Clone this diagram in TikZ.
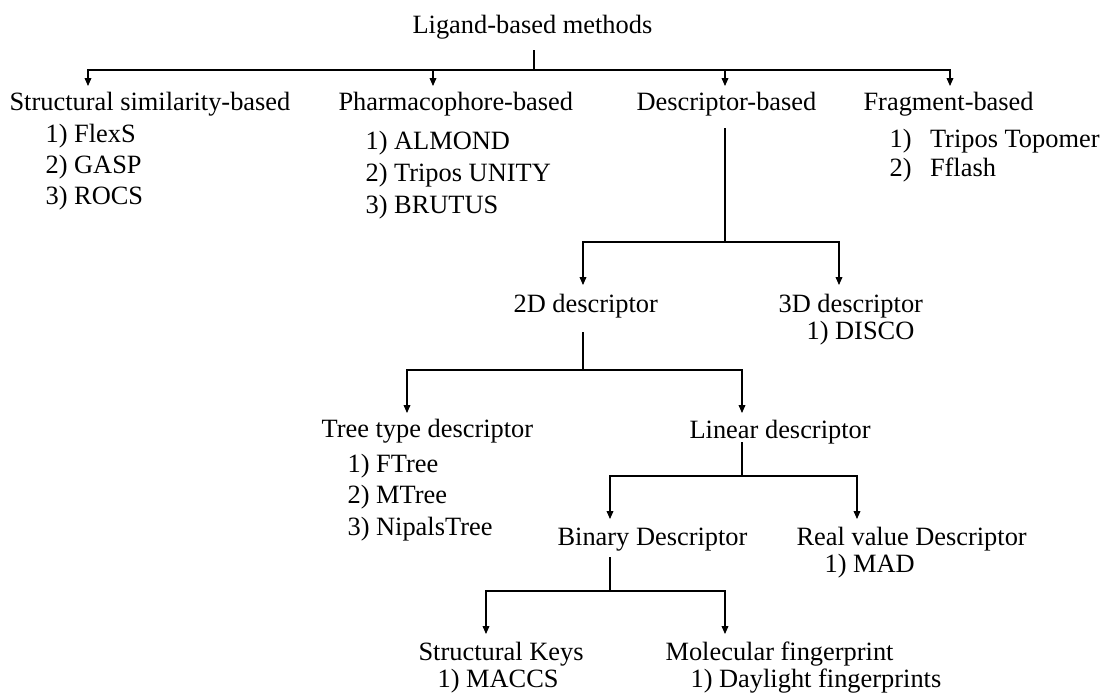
\documentclass[tikz,border=0pt]{standalone}
\usepackage{fontspec}
\setmainfont{Liberation Serif}
\usetikzlibrary{arrows.meta}
\tikzset{
  lbl/.style={anchor=base west, inner xsep=0pt, inner ysep=3pt, font=\fontsize{13.2}{15}\selectfont},
  arr/.style={-{Triangle[length=4pt,width=3.4pt]}}
}
\begin{document}
\begin{tikzpicture}[x=0.5pt,y=-0.5pt,line width=0.55pt]
\useasboundingbox (0,0) rectangle (1103,692);

% draw the root node
\node[lbl] (lig) at (412,33) {Ligand-based methods};

% draw nodes for the four families
\node[lbl] (ssb) at (9,110) {Structural similarity-based};
\node[lbl] (pha) at (338,110) {Pharmacophore-based};
\node[lbl] (des) at (636,110) {Descriptor-based};
\node[lbl] (fra) at (863,110) {Fragment-based};

% draw the programs of each family
\foreach \t [count=\i] in {FlexS,GASP,ROCS}
  \node[lbl] (ssb-\i) at (45,{142+31*(\i-1)}) {\i) \t};
\foreach \t [count=\i] in {ALMOND,Tripos UNITY,BRUTUS}
  \node[lbl] (pha-\i) at (365,{149+32*(\i-1)}) {\i) \t};
\foreach \t [count=\i] in {Tripos Topomer,Fflash}
  \node[lbl] (fra-\i) at (889,{147+29*(\i-1)}) {\i)\hspace{0.7em}\t};

% draw the descriptor levels
\node[lbl] (d2) at (513,312) {2D descriptor};
\node[lbl] (d3) at (778,312) {3D descriptor};
\node[lbl] (d3-1) at (806,339) {1) DISCO};

\node[lbl] (tree) at (321,437) {Tree type descriptor};
\foreach \t [count=\i] in {FTree,MTree,NipalsTree}
  \node[lbl] (tree-\i) at (347,{472+31.5*(\i-1)}) {\i) \t};
\node[lbl] (lin) at (689,438) {Linear descriptor};

\node[lbl] (bin) at (557,545) {Binary Descriptor};
\node[lbl] (real) at (796,545) {Real value Descriptor};
\node[lbl] (real-1) at (824,572) {1) MAD};

\node[lbl] (keys) at (418,660) {Structural Keys};
\node[lbl] (keys-1) at (437,687) {1) MACCS};
\node[lbl] (fing) at (665,660) {Molecular fingerprint};
\node[lbl] (fing-1) at (690,687) {1) Daylight fingerprints};

% draw junctions and arrow tips
\coordinate (b0) at (534,70);
\coordinate (a-ssb) at (88,86);
\coordinate (a-pha) at (433,86);
\coordinate (a-des) at (725,86);
\coordinate (a-fra) at (950,86);
\coordinate (b1) at (725,242);
\coordinate (a-d2) at (583,285);
\coordinate (a-d3) at (839,285);
\coordinate (b2) at (583,370);
\coordinate (a-tree) at (407,413);
\coordinate (a-lin) at (742,413);
\coordinate (b3) at (742,476);
\coordinate (a-bin) at (610,519);
\coordinate (a-real) at (857,519);
\coordinate (b4) at (610,591);
\coordinate (a-keys) at (486,634);
\coordinate (a-fing) at (725,634);

% draw the connectors
\draw ([yshift=-2.5pt]lig.south -| b0) -- (b0);
\foreach \n in {ssb,pha,des,fra}
  \draw[arr] (b0) -| (a-\n);

\draw ([yshift=-3pt]des.south -| b1) -- (b1);
\foreach \n in {d2,d3}
  \draw[arr] (b1) -| (a-\n);

\draw ([yshift=-4pt]d2.south -| b2) -- (b2);
\foreach \n in {tree,lin}
  \draw[arr] (b2) -| (a-\n);

\draw ([yshift=4pt]lin.south -| b3) -- (b3);
\foreach \n in {bin,real}
  \draw[arr] (b3) -| (a-\n);

\draw (bin.south -| b4) -- (b4);
\foreach \n in {keys,fing}
  \draw[arr] (b4) -| (a-\n);
\end{tikzpicture}
\end{document}
